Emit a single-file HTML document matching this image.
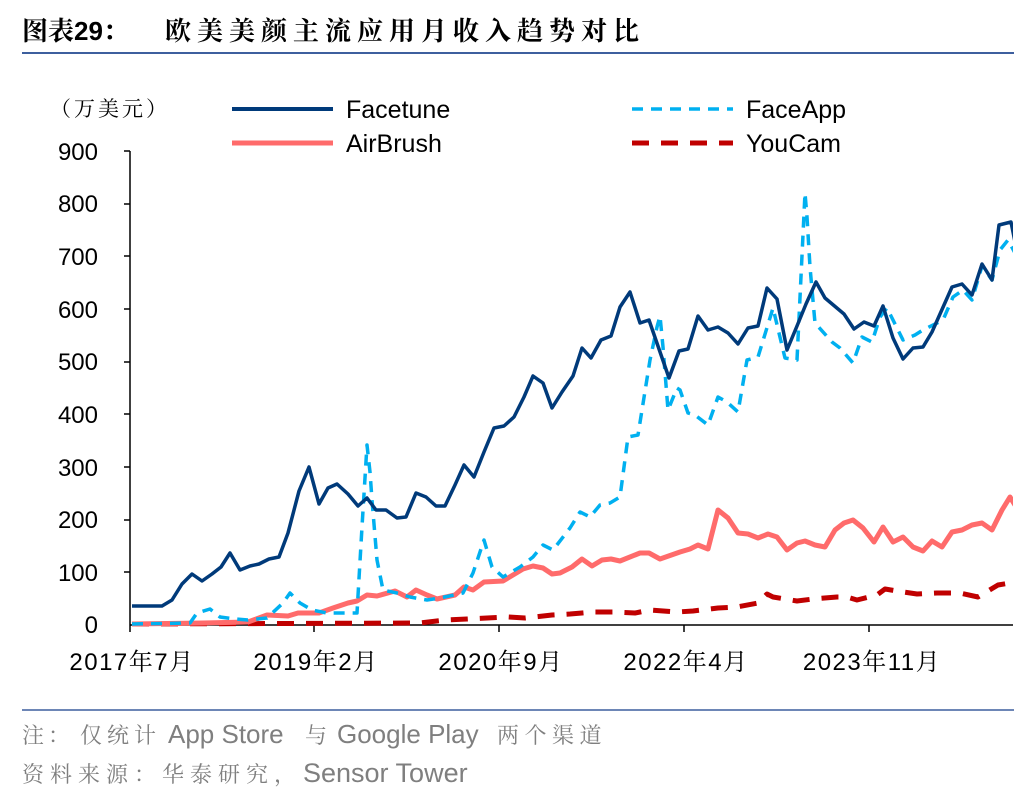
<!DOCTYPE html>
<html><head><meta charset="utf-8"><style>
html,body{margin:0;padding:0;background:#fff;}
body{width:1036px;height:800px;overflow:hidden;font-family:"Liberation Sans","Noto Sans CJK SC",sans-serif;}
</style></head><body>
<svg width="1036" height="800" viewBox="0 0 1036 800" xmlns="http://www.w3.org/2000/svg" font-family="Liberation Sans, Noto Sans CJK SC, sans-serif">
<g font-family="Liberation Sans, Noto Serif CJK SC, serif" font-weight="bold" font-size="26" fill="#000">
<text x="22" y="40">图表29：</text>
<text x="165" y="40" letter-spacing="6">欧美美颜主流应用月收入趋势对比</text>
</g>
<line x1="22" y1="53" x2="1014" y2="53" stroke="#3d5f9e" stroke-width="2"/>
<text x="50" y="116" font-size="21" fill="#000" letter-spacing="3" font-family="Liberation Sans, Noto Serif CJK SC, serif">（万美元）</text>
<line x1="232" y1="109" x2="333" y2="109" stroke="#003a7a" stroke-width="4"/>
<text x="346" y="118" font-size="25" fill="#000">Facetune</text>
<line x1="632" y1="109" x2="733" y2="109" stroke="#00b0f0" stroke-width="3.5" stroke-dasharray="11,8"/>
<text x="746" y="118" font-size="25" fill="#000">FaceApp</text>
<line x1="232" y1="143" x2="333" y2="143" stroke="#ff6b6b" stroke-width="5"/>
<text x="346" y="152" font-size="25" fill="#000">AirBrush</text>
<line x1="632" y1="143" x2="733" y2="143" stroke="#c00000" stroke-width="5" stroke-dasharray="17,12"/>
<text x="746" y="152" font-size="25" fill="#000">YouCam</text>
<g font-size="24" fill="#000" text-anchor="end">
<text x="98" y="633">0</text><text x="98" y="581">100</text><text x="98" y="528">200</text><text x="98" y="476">300</text><text x="98" y="423">400</text><text x="98" y="370">500</text><text x="98" y="318">600</text><text x="98" y="265">700</text><text x="98" y="212">800</text><text x="98" y="160">900</text>
</g>
<g stroke="#000" stroke-width="1.5">
<line x1="130" y1="151" x2="130" y2="625"/>
<line x1="130" y1="625" x2="1013" y2="625"/>
<line x1="124" y1="151" x2="130" y2="151"/><line x1="124" y1="204" x2="130" y2="204"/><line x1="124" y1="256" x2="130" y2="256"/><line x1="124" y1="309" x2="130" y2="309"/><line x1="124" y1="362" x2="130" y2="362"/><line x1="124" y1="414" x2="130" y2="414"/><line x1="124" y1="467" x2="130" y2="467"/><line x1="124" y1="520" x2="130" y2="520"/><line x1="124" y1="572" x2="130" y2="572"/>
<line x1="130" y1="625" x2="130" y2="632"/><line x1="314" y1="625" x2="314" y2="632"/><line x1="499" y1="625" x2="499" y2="632"/><line x1="684" y1="625" x2="684" y2="632"/><line x1="869" y1="625" x2="869" y2="632"/>
</g>
<g font-size="24" fill="#000" text-anchor="middle" letter-spacing="1.5" font-family="Liberation Sans, Noto Serif CJK SC, serif">
<text x="132" y="670">2017年7月</text><text x="316" y="670">2019年2月</text><text x="501" y="670">2020年9月</text><text x="686" y="670">2022年4月</text><text x="872" y="670">2023年11月</text>
</g>
<defs><clipPath id="c"><rect x="128" y="150" width="885" height="480"/></clipPath></defs>
<g clip-path="url(#c)" fill="none" stroke-linejoin="round">
<polyline stroke="#c00000" stroke-width="5" stroke-dasharray="17,12" points="132,624 420,623 445,620 467,619 487,618 508,617 525,618 552,615 570,614 593,612 613,612 635,613 650,610 677,612 693,611 718,608 737,607 758,603 767,594 773,597 797,601 813,599 837,597 847,597 857,600 877,595 885,589 897,591 917,594 937,593 960,593 978,597 998,585 1010,583 1015,588"/>
<polyline stroke="#ff6b6b" stroke-width="5" points="132,624 203,623 248,622 267,615 288,616 298,613 319,613 333,608 348,603 357,601 367,595 377,596 395,591 407,597 416,590 427,595 437,599 455,595 464,587 473,590 484,582 503,581 523,569 533,566 543,568 552,574 560,573 572,567 582,559 592,566 602,560 611,559 620,561 640,553 649,553 660,559 680,552 690,549 698,545 708,549 718,510 728,518 738,533 748,534 758,538 768,534 777,537 787,550 797,543 805,541 815,545 825,547 835,530 844,523 853,520 863,528 874,542 883,527 893,542 903,537 913,547 923,551 932,541 942,547 952,532 962,530 972,525 982,523 992,530 1002,510 1010,497 1015,505"/>
<polyline stroke="#00b0f0" stroke-width="3.5" stroke-dasharray="11,8" points="132,624 190,623 197,613 210,609 220,617 235,619 248,620 267,618 283,603 290,593 300,603 312,610 327,613 340,613 357,613 362,527 367,445 370,472 372,500 377,560 383,590 397,593 410,597 427,600 440,598 463,593 473,573 484,540 492,567 503,577 520,567 533,557 543,545 553,550 570,528 580,512 590,517 600,505 610,503 620,497 628,437 638,435 650,360 657,327 660,316 663,347 668,410 677,388 680,390 688,413 695,415 708,425 718,397 727,402 738,412 747,360 758,357 773,308 785,358 797,360 805,193 807,217 810,267 815,323 832,342 840,348 853,363 862,337 872,342 880,317 887,308 903,340 915,335 923,330 943,320 953,297 963,290 972,300 982,266 992,280 1000,250 1008,240 1015,253"/>
<polyline stroke="#003a7a" stroke-width="3.5" points="132,606 162,606 172,600 182,584 192,574 202,581 212,574 221,567 230,553 240,570 250,566 259,564 269,559 279,557 288,533 299,491 309,467 319,504 328,488 337,484 348,494 358,506 367,498 376,510 386,510 397,518 406,517 416,493 426,497 436,506 445,506 455,485 464,465 474,477 484,452 494,428 504,426 514,417 524,397 533,376 543,383 552,408 562,392 573,376 582,348 591,358 601,340 611,336 620,307 630,292 640,323 649,320 659,349 669,378 679,351 688,349 698,316 708,330 718,327 728,333 738,344 748,328 758,326 767,288 777,299 787,350 797,326 806,304 816,282 825,298 844,314 854,329 864,322 874,326 883,306 893,338 903,359 913,348 923,347 932,332 952,287 962,284 972,295 982,264 992,280 999,225 1011,222 1015,242"/>
</g>
<line x1="22" y1="710" x2="1014" y2="710" stroke="#3d5f9e" stroke-width="1.5"/>
<g fill="#7f7f7f" font-size="22" font-family="Liberation Sans, Noto Serif CJK SC, serif">
<text x="22" y="743" letter-spacing="4">注：</text>
<text x="80" y="743" letter-spacing="5">仅统计</text>
<text x="168" y="743" font-size="26" font-family="Liberation Sans, sans-serif">App Store</text>
<text x="305" y="743">与</text>
<text x="337" y="743" font-size="26" font-family="Liberation Sans, sans-serif">Google Play</text>
<text x="497" y="743" letter-spacing="5.5">两个渠道</text>
<text x="22" y="782" letter-spacing="6">资料来源：华泰研究，</text>
<text x="303" y="782" font-size="27" font-family="Liberation Sans, sans-serif">Sensor Tower</text>
</g>
</svg>
</body></html>
